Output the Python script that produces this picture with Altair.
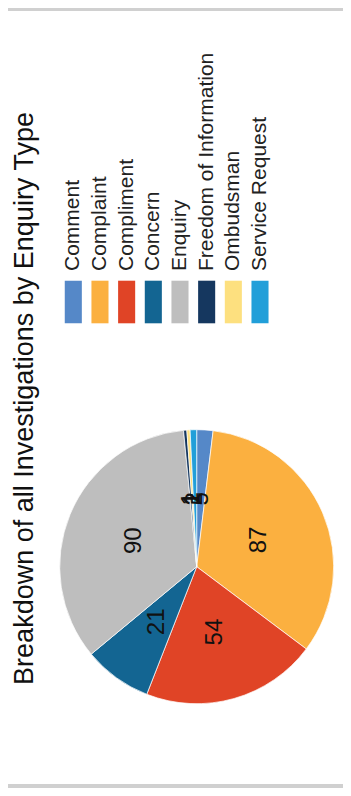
import altair as alt
import pandas as pd

categories = ["Comment", "Complaint", "Compliment", "Concern", "Enquiry",
              "Freedom of Information", "Ombudsman", "Service Request"]
values = [5, 87, 54, 21, 90, 1, 1, 2]
colors = ["#5588C8", "#FBB040", "#E04426", "#136592", "#BEBEBE",
          "#15375F", "#FDE07F", "#229FD9"]
title_text = "Breakdown of all Investigations by Enquiry Type"

FONT = "Liberation Sans"

df = pd.DataFrame({"type": categories, "value": values, "idx": list(range(len(categories)))})
color_scale = alt.Scale(domain=categories, range=colors)

CX, CY, R = 188.7, 558.7, 137

base = alt.Chart(df).encode(
    theta=alt.Theta("value:Q", stack=True),
    order=alt.Order("idx:Q"),
)

pie = base.mark_arc(radius=R, stroke="white", strokeWidth=0.7).encode(
    color=alt.Color("type:N", scale=color_scale, legend=None),
    x=alt.value(CX), y=alt.value(CY),
)

labels = base.mark_text(radius=68, angle=270, fontSize=24, font=FONT,
                        align="center", baseline="middle", color="#111111").encode(
    text=alt.Text("value:Q"),
    x=alt.value(CX), y=alt.value(CY),
)

leg_x = alt.Scale(domain=[0, 7], range=[65.3, 252])

legend_rects = alt.Chart(df).transform_calculate(
    lo="datum.idx - 0.32", hi="datum.idx + 0.32"
).mark_rect().encode(
    x=alt.X("lo:Q", scale=leg_x, axis=None),
    x2="hi:Q",
    y=alt.value(272.7), y2=alt.value(315.3),
    color=alt.Color("type:N", scale=color_scale, legend=None),
)

legend_text = alt.Chart(df).mark_text(
    angle=270, align="left", baseline="middle", fontSize=21, font=FONT, color="#222222"
).encode(
    x=alt.X("idx:Q", scale=leg_x, axis=None),
    y=alt.value(263),
    text="type:N",
)

title = alt.Chart(pd.DataFrame({"t": [title_text]})).mark_text(
    angle=270, align="center", baseline="alphabetic", fontSize=27, font=FONT, color="#111111"
).encode(
    x=alt.value(25), y=alt.value(390.5), text="t:N",
)

bands = alt.Chart(pd.DataFrame({"b": ["top", "bottom"], "y0": [0, 776], "y1": [3, 780]})).mark_rect(
    color="#d0d0d0"
).encode(
    x=alt.value(-8), x2=alt.value(343),
    y=alt.Y("y0:Q", scale=alt.Scale(domain=[0, 780], range=[0, 780]), axis=None),
    y2="y1:Q",
)

chart = alt.layer(bands, pie, labels, legend_rects, legend_text, title).resolve_scale(
    y="independent"
).properties(
    width=335, height=780, autosize=alt.AutoSizeParams(type="none"), padding=0
).configure_view(stroke=None)

chart.save("out.html", embed_options={"renderer": "svg", "actions": False})
